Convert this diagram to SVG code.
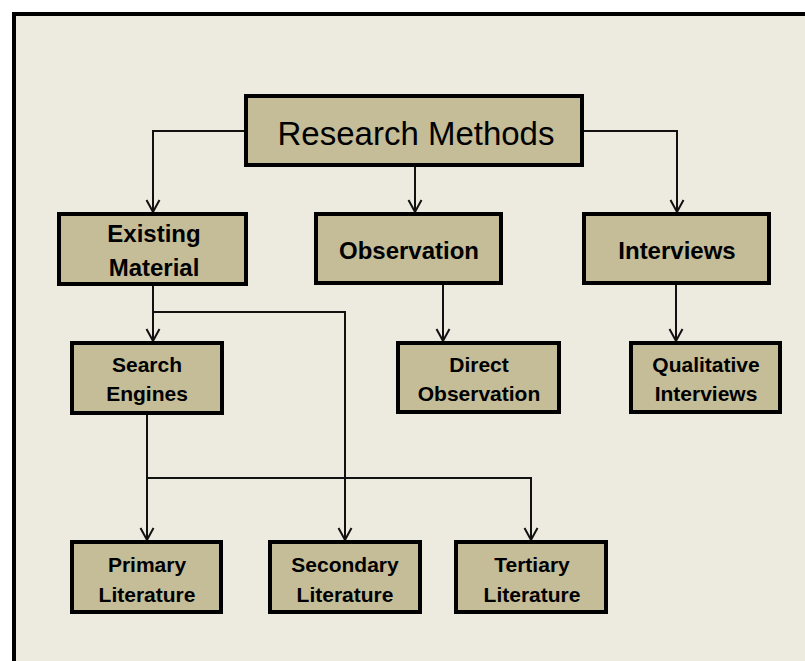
<svg xmlns="http://www.w3.org/2000/svg" width="805" height="661" viewBox="0 0 805 661">
  <style>
    .frame { fill: #EDEAE0; stroke: #000; stroke-width: 4; }
    .box { fill: #C4BD98; stroke: #000; stroke-width: 4; }
    .wire { fill: none; stroke: #111; stroke-width: 2; }
    .t { font-family: "Liberation Sans", Arial, sans-serif; fill: #000; text-anchor: middle; }
    .title { font-size: 33px; }
    .l2 { font-size: 24px; font-weight: bold; }
    .l3 { font-size: 21px; font-weight: bold; }
  </style>
  <defs>
    <marker id="arrow" markerUnits="userSpaceOnUse" markerWidth="20" markerHeight="20" refX="0" refY="0" viewBox="-14 -10 16 20" orient="auto" overflow="visible">
      <path d="M-12,-6.5 L0,0 L-12,6.5" fill="none" stroke="#111" stroke-width="2"/>
    </marker>
  </defs>

  <rect width="805" height="661" fill="#FFFFFF"/>
  <rect class="frame" x="14" y="14" width="800" height="660"/>

  <g id="connectors">
    <path class="wire" d="M246,131 H153 V212" marker-end="url(#arrow)"/>
    <path class="wire" d="M582,131 H677 V212" marker-end="url(#arrow)"/>
    <path class="wire" d="M415,165 V212" marker-end="url(#arrow)"/>
    <path class="wire" d="M153,286 V341" marker-end="url(#arrow)"/>
    <path class="wire" d="M153,312 H345 V540" marker-end="url(#arrow)"/>
    <path class="wire" d="M443,285 V341" marker-end="url(#arrow)"/>
    <path class="wire" d="M676,285 V341" marker-end="url(#arrow)"/>
    <path class="wire" d="M147,415 V540" marker-end="url(#arrow)"/>
    <path class="wire" d="M147,478 H531 V540" marker-end="url(#arrow)"/>
  </g>

  <g id="research-methods">
    <rect class="box" x="246" y="96" width="336" height="69"/>
    <text class="t title" x="416" y="145">Research Methods</text>
  </g>

  <g id="existing-material">
    <rect class="box" x="59" y="214" width="187" height="70"/>
    <text class="t l2" x="154" y="242">Existing</text>
    <text class="t l2" x="154" y="276">Material</text>
  </g>

  <g id="observation">
    <rect class="box" x="316" y="214" width="185" height="69"/>
    <text class="t l2" x="409" y="259">Observation</text>
  </g>

  <g id="interviews">
    <rect class="box" x="584" y="214" width="185" height="69"/>
    <text class="t l2" x="677" y="259">Interviews</text>
  </g>

  <g id="search-engines">
    <rect class="box" x="72" y="343" width="150" height="70"/>
    <text class="t l3" x="147" y="372">Search</text>
    <text class="t l3" x="147" y="401">Engines</text>
  </g>

  <g id="direct-observation">
    <rect class="box" x="398" y="343" width="161" height="69"/>
    <text class="t l3" x="479" y="372">Direct</text>
    <text class="t l3" x="479" y="401">Observation</text>
  </g>

  <g id="qualitative-interviews">
    <rect class="box" x="631" y="343" width="149" height="69"/>
    <text class="t l3" x="706" y="372">Qualitative</text>
    <text class="t l3" x="706" y="401">Interviews</text>
  </g>

  <g id="primary-literature">
    <rect class="box" x="72" y="542" width="149" height="70"/>
    <text class="t l3" x="147" y="572">Primary</text>
    <text class="t l3" x="147" y="602">Literature</text>
  </g>

  <g id="secondary-literature">
    <rect class="box" x="270" y="542" width="150" height="70"/>
    <text class="t l3" x="345" y="572">Secondary</text>
    <text class="t l3" x="345" y="602">Literature</text>
  </g>

  <g id="tertiary-literature">
    <rect class="box" x="456" y="542" width="150" height="70"/>
    <text class="t l3" x="532" y="572">Tertiary</text>
    <text class="t l3" x="532" y="602">Literature</text>
  </g>
</svg>
